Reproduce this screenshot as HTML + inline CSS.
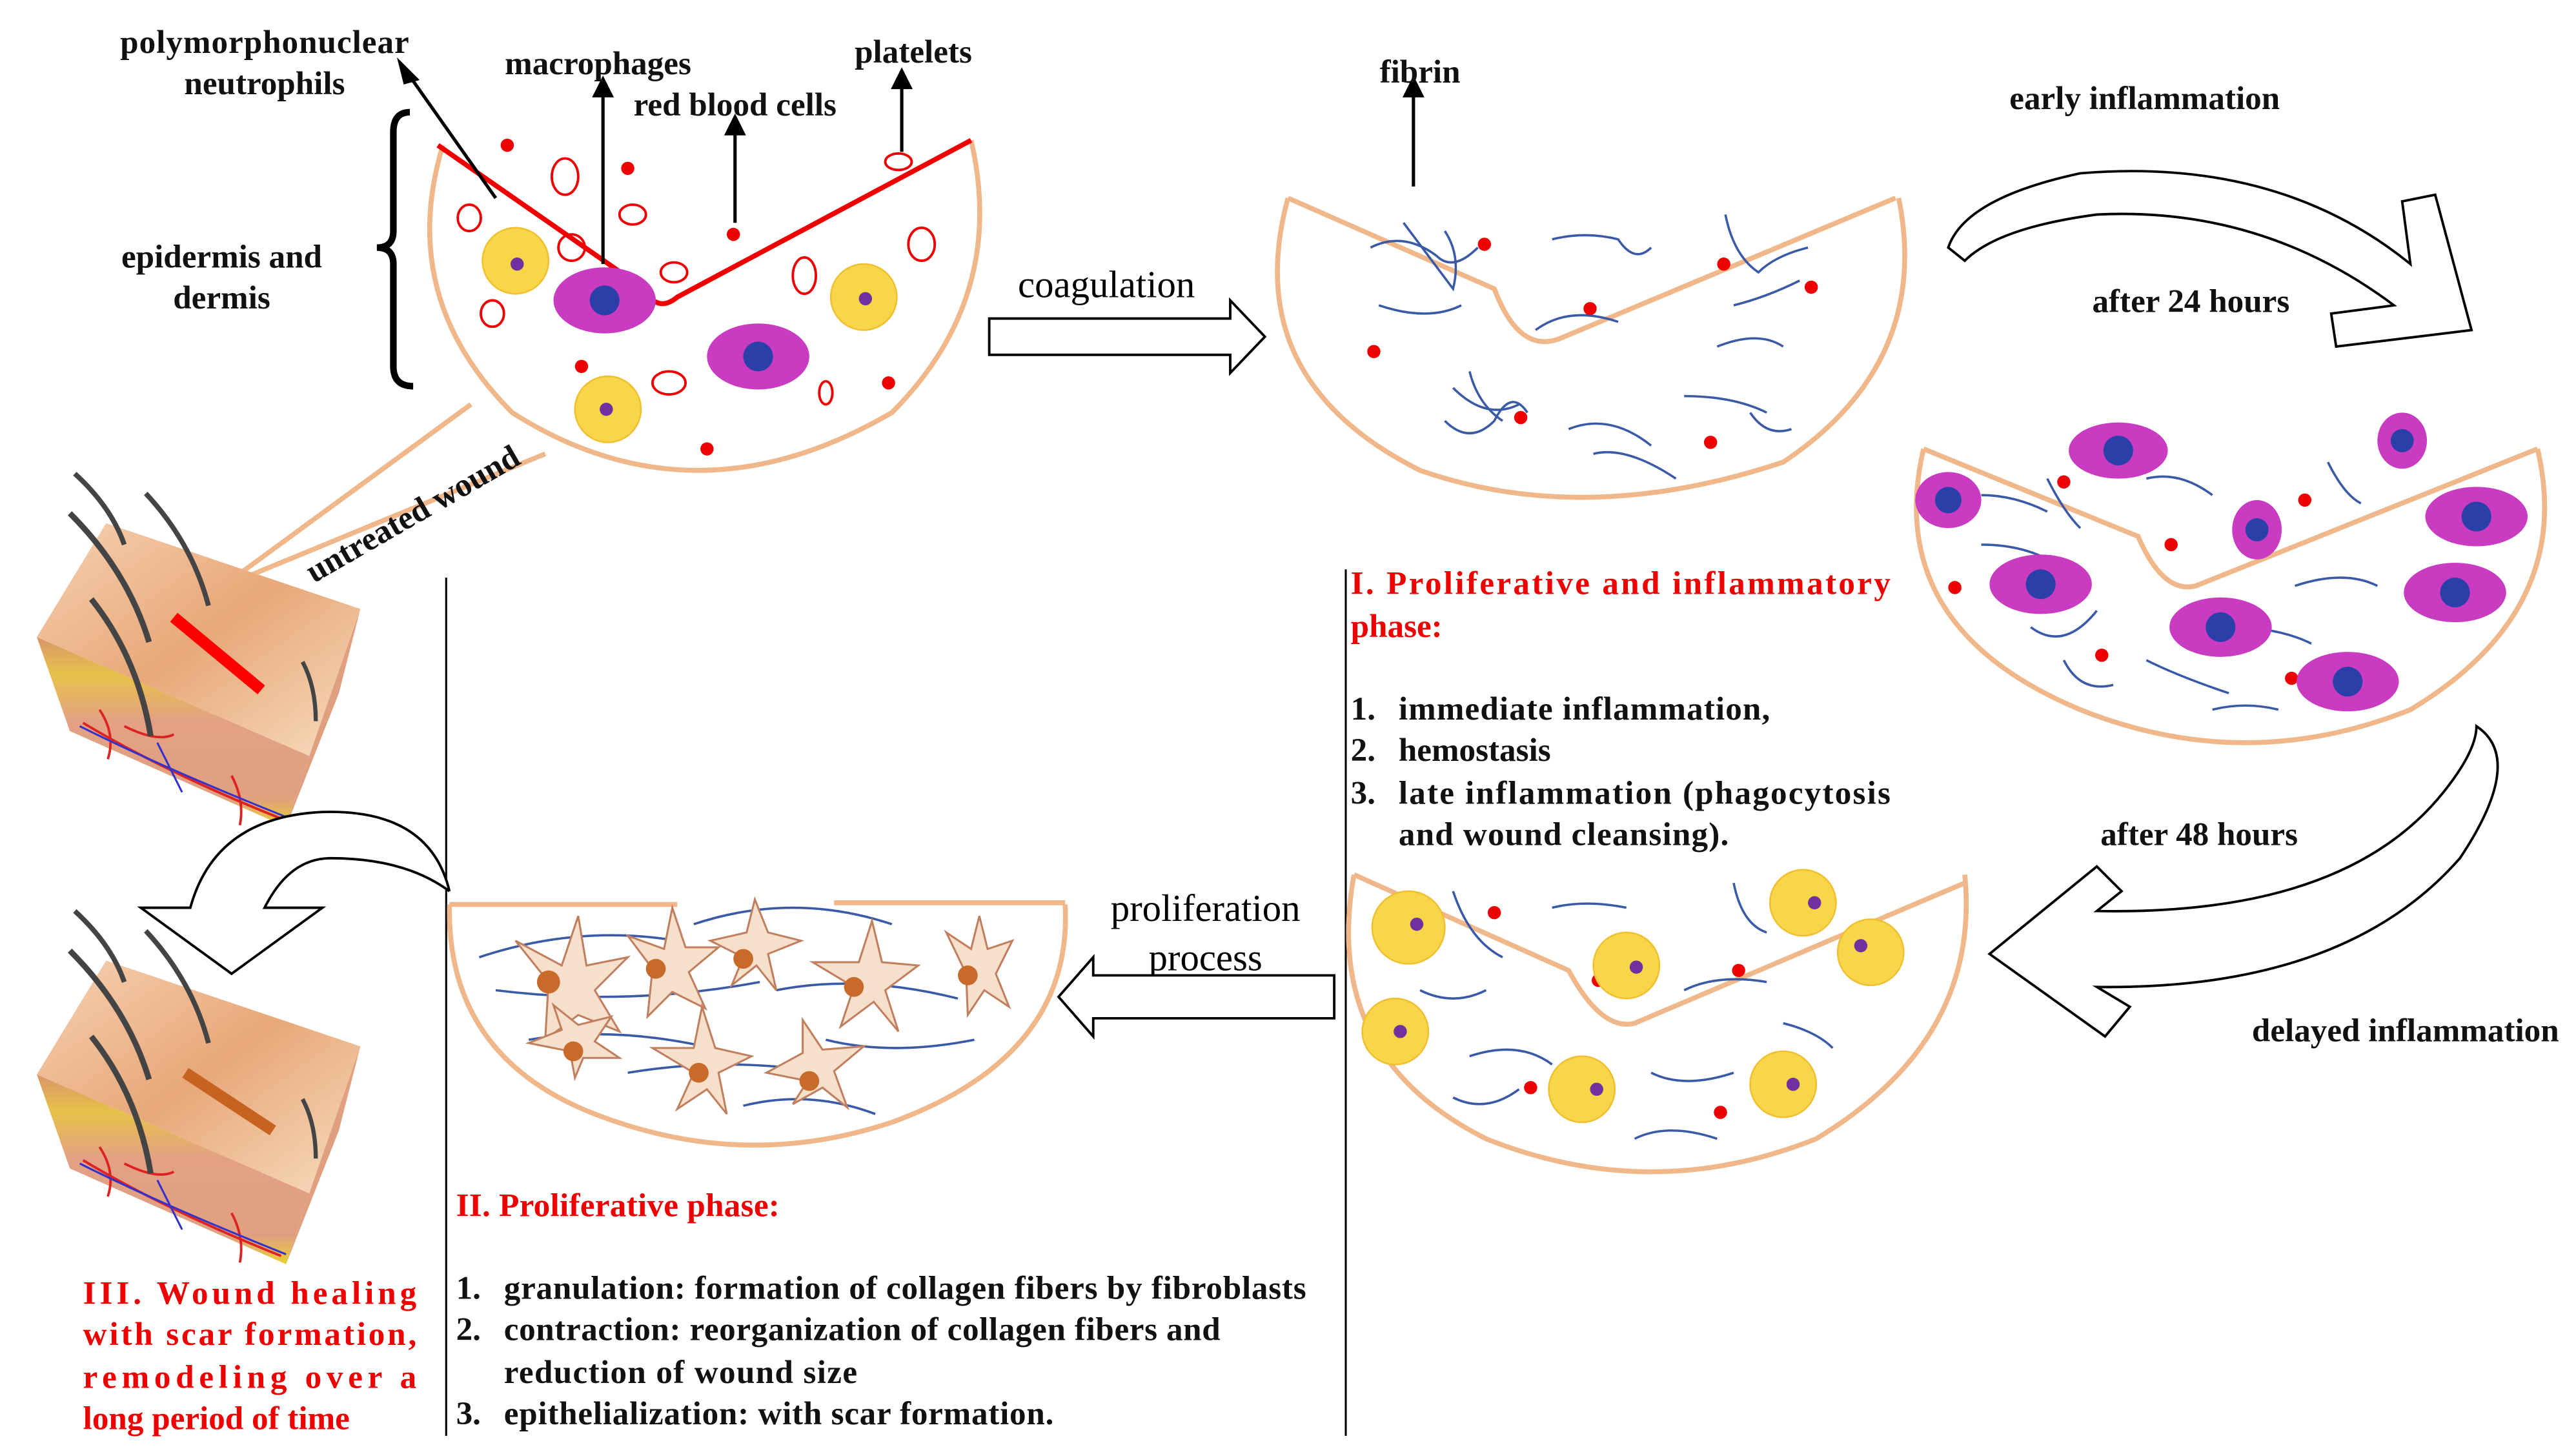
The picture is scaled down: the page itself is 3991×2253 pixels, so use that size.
<!DOCTYPE html>
<html><head><meta charset="utf-8"><style>
html,body{margin:0;padding:0;background:#fff;width:3991px;height:2253px;overflow:hidden}
svg{display:block}
text{font-family:"Liberation Serif",serif;font-weight:bold;}
text.n{font-weight:normal;}
</style></head><body>
<svg width="3991" height="2253" viewBox="0 0 1560 881" xmlns="http://www.w3.org/2000/svg">
<defs>
<linearGradient id="top" x1="0" y1="0" x2="1" y2="1">
<stop offset="0" stop-color="#f6d2b4"/><stop offset="0.5" stop-color="#e8a878"/><stop offset="1" stop-color="#f7dcc0"/></linearGradient>
<linearGradient id="front" x1="0" y1="0" x2="0" y2="1">
<stop offset="0" stop-color="#d9956a"/><stop offset="0.2" stop-color="#e6c24a"/><stop offset="0.45" stop-color="#e3a085"/><stop offset="0.85" stop-color="#e0a080"/><stop offset="1" stop-color="#e8d030"/></linearGradient>
<g id="cube">
<polygon points="22,386 187,458 173,501 42,443" fill="url(#front)"/>
<polygon points="187,458 218,369 205,420 173,501" fill="#e0a080"/>
<polygon points="22,386 64,317 218,369 187,458" fill="url(#top)"/>
<path d="M60,430 q10,15 5,30 M140,470 q8,15 5,30 M75,440 q20,10 30,5 M50,438 q50,30 120,58" stroke="#d22" stroke-width="1.5" fill="none"/>
<path d="M48,440 q50,25 125,55 M95,450 q10,20 15,30" stroke="#33c" stroke-width="1.2" fill="none"/>
<path d="M45,287 q22,20 30,43" stroke="#444" stroke-width="3" fill="none"/>
<path d="M42,311 q35,35 48,78" stroke="#444" stroke-width="3.5" fill="none"/>
<path d="M88,299 q28,30 38,68" stroke="#444" stroke-width="3" fill="none"/>
<path d="M55,363 q28,35 36,83" stroke="#444" stroke-width="3.5" fill="none"/>
<path d="M183,401 q8,15 8,36" stroke="#444" stroke-width="2.5" fill="none"/>
</g>
</defs>

<path d="M285,245 L128,360 M330,275 L143,352" stroke="#f0b88a" stroke-width="3"/>
<use href="#cube"/>
<line x1="105" y1="374" x2="158" y2="418" stroke="#f00" stroke-width="7"/>
<g transform="translate(0,265)"><use href="#cube"/>
<line x1="112" y1="385" x2="165" y2="420" stroke="#c8621f" stroke-width="7"/></g>

<path d="M268,88 Q240,180 310,250 Q420,320 540,250 Q610,180 588,85" fill="#fff" stroke="#f0b88a" stroke-width="3"/>
<path d="M265,88 L390,175 Q398,190 410,180 L588,85" fill="none" stroke="#e00" stroke-width="3"/>
<g fill="none" stroke="#e00" stroke-width="1.5">
<ellipse cx="342" cy="107" rx="8" ry="11"/><ellipse cx="284" cy="132" rx="7" ry="8"/><ellipse cx="346" cy="150" rx="8" ry="8"/><ellipse cx="383" cy="130" rx="8" ry="6"/><ellipse cx="298" cy="190" rx="7" ry="8"/><ellipse cx="408" cy="165" rx="8" ry="6"/><ellipse cx="487" cy="167" rx="7" ry="11"/><ellipse cx="558" cy="148" rx="8" ry="10"/><ellipse cx="405" cy="232" rx="10" ry="7"/><ellipse cx="500" cy="238" rx="4" ry="7"/><ellipse cx="544" cy="98" rx="8" ry="5"/></g>
<g fill="#e00"><circle cx="307" cy="88" r="4"/><circle cx="380" cy="102" r="4"/><circle cx="444" cy="142" r="4"/><circle cx="352" cy="222" r="4"/><circle cx="538" cy="232" r="4"/><circle cx="428" cy="272" r="4"/></g>
<g fill="#f8d64a" stroke="#f0c030"><circle cx="312" cy="158" r="20"/><circle cx="523" cy="180" r="20"/><circle cx="368" cy="248" r="20"/></g>
<g fill="#7030a0"><circle cx="313" cy="160" r="4"/><circle cx="524" cy="181" r="4"/><circle cx="367" cy="248" r="4"/></g>
<g fill="#c93bc1"><ellipse cx="366" cy="182" rx="31" ry="20"/><ellipse cx="459" cy="216" rx="31" ry="20"/></g>
<g fill="#2a3fa8"><circle cx="366" cy="182" r="9"/><circle cx="459" cy="216" r="9"/></g>
<g stroke="#000" stroke-width="2" fill="#000">
<line x1="300" y1="120" x2="245" y2="42"/><polygon points="242,38 252,48 245,50" />
<line x1="365" y1="160" x2="365" y2="55"/><polygon points="365,48 360,58 370,58"/>
<line x1="445" y1="135" x2="445" y2="78"/><polygon points="445,71 440,81 450,81"/>
<line x1="546" y1="92" x2="546" y2="50"/><polygon points="546,43 541,53 551,53"/>
<line x1="856" y1="113" x2="856" y2="55"/><polygon points="856,48 851,58 861,58"/>
</g>
<path d="M248,68 Q238,68 238,80 L238,140 Q238,150 228,150 Q238,150 238,160 L238,222 Q238,234 250,234" fill="none" stroke="#000" stroke-width="4"/>
<g font-size="20" fill="#111">
<text x="160" y="32" text-anchor="middle" textLength="175">polymorphonuclear</text>
<text x="160" y="57" text-anchor="middle">neutrophils</text>
<text x="362" y="45" text-anchor="middle">macrophages</text>
<text x="445" y="70" text-anchor="middle">red blood cells</text>
<text x="553" y="38" text-anchor="middle">platelets</text>
<text x="134" y="162" text-anchor="middle">epidermis and</text>
<text x="134" y="187" text-anchor="middle">dermis</text>
<text x="860" y="50" text-anchor="middle">fibrin</text>
<text x="1299" y="66" text-anchor="middle">early inflammation</text>
<text x="1327" y="189" text-anchor="middle">after 24 hours</text>
<text x="1332" y="512" text-anchor="middle">after 48 hours</text>
<text x="1457" y="631" text-anchor="middle">delayed inflammation</text>
<text x="253" y="317" text-anchor="middle" transform="rotate(-30 253 317)">untreated wound</text>
</g>
<text class="n" x="670" y="180" font-size="23" text-anchor="middle">coagulation</text>
<text class="n" x="730" y="558" font-size="23" text-anchor="middle">proliferation</text>
<text class="n" x="730" y="588" font-size="23" text-anchor="middle">process</text>
<polygon points="599,193 745,193 745,182 766,204 745,226 745,215 599,215" fill="#fff" stroke="#000" stroke-width="1.5"/>
<polygon points="808,591 662,591 662,580 641,604 662,628 662,617 808,617" fill="#fff" stroke="#000" stroke-width="1.5"/>
<path d="M1180,150 Q1190,120 1260,105 Q1380,95 1460,160 L1455,122 L1475,118 L1497,200 L1415,210 L1412,190 L1450,185 Q1370,125 1270,130 Q1210,138 1190,158 Z" fill="#fff" stroke="#000" stroke-width="1.5"/>
<path d="M1500,440 Q1530,460 1490,520 Q1420,600 1270,598 L1290,610 L1275,628 L1205,578 L1270,525 L1285,540 L1270,552 Q1420,555 1480,480 Q1500,455 1500,440 Z" fill="#fff" stroke="#000" stroke-width="1.5"/>
<line x1="270" y1="350" x2="270" y2="870" stroke="#000" stroke-width="1.2"/>
<line x1="815" y1="345" x2="815" y2="870" stroke="#000" stroke-width="1.2"/>
<path d="M272,540 Q260,490 195,492 Q130,495 115,550 L85,550 L140,590 L195,550 L160,550 Q175,520 200,520 Q245,520 272,540" fill="#fff" stroke="#000" stroke-width="1.5"/>

<path d="M780,120 Q750,230 860,285 Q960,320 1080,280 Q1170,220 1150,120" fill="none" stroke="#f0b88a" stroke-width="3"/>
<path d="M780,120 L905,175 Q920,215 945,205 L1148,120" fill="none" stroke="#f0b88a" stroke-width="3"/>
<g fill="none" stroke="#3a5aa8" stroke-width="1.4">
<path d="M830,150 q20,-10 40,5 q10,10 25,-5"/><path d="M850,135 q15,20 30,40 q5,-20 -5,-35"/><path d="M940,145 q20,-5 40,0 q10,15 20,5"/><path d="M1045,130 q5,25 20,35 q10,-10 30,-15"/><path d="M835,185 q30,10 50,0"/><path d="M930,200 q20,-15 50,-5"/><path d="M1040,210 q25,-10 40,0"/><path d="M1050,185 q20,-5 40,-15"/><path d="M880,235 q20,20 40,10"/><path d="M875,255 q15,15 30,0 q10,-20 20,-5"/><path d="M950,260 q25,-10 50,10"/><path d="M965,275 q20,-5 50,15"/><path d="M1020,240 q30,0 50,10"/><path d="M1060,250 q10,15 25,10"/><path d="M890,225 q5,20 20,30"/></g>
<g fill="#e00"><circle cx="899" cy="148" r="4"/><circle cx="1044" cy="160" r="4"/><circle cx="1097" cy="174" r="4"/><circle cx="963" cy="187" r="4"/><circle cx="832" cy="213" r="4"/><circle cx="921" cy="253" r="4"/><circle cx="1036" cy="268" r="4"/></g>

<path d="M1165,272 Q1140,380 1260,430 Q1360,470 1460,430 Q1560,370 1537,272" fill="none" stroke="#f0b88a" stroke-width="3"/>
<path d="M1165,272 L1295,325 Q1310,360 1330,355 L1537,272" fill="none" stroke="#f0b88a" stroke-width="3"/>
<g fill="none" stroke="#3a5aa8" stroke-width="1.4">
<path d="M1200,300 q20,0 40,10"/><path d="M1240,290 q10,20 20,30"/><path d="M1300,290 q20,-5 40,10"/><path d="M1410,280 q10,20 20,25"/><path d="M1230,380 q20,15 40,-10"/><path d="M1250,400 q10,20 30,15"/><path d="M1350,380 q30,0 50,10"/><path d="M1390,355 q30,-10 50,0"/><path d="M1300,400 q20,10 50,20"/><path d="M1340,430 q20,-5 40,0"/><path d="M1200,330 q30,0 50,15"/></g>
<g fill="#e00"><circle cx="1250" cy="292" r="4"/><circle cx="1315" cy="330" r="4"/><circle cx="1396" cy="303" r="4"/><circle cx="1184" cy="356" r="4"/><circle cx="1273" cy="397" r="4"/><circle cx="1388" cy="411" r="4"/></g>
<g fill="#c93bc1"><ellipse cx="1283" cy="273" rx="30" ry="17"/><ellipse cx="1455" cy="267" rx="15" ry="17"/><ellipse cx="1180" cy="303" rx="20" ry="17"/><ellipse cx="1367" cy="321" rx="15" ry="18"/><ellipse cx="1500" cy="313" rx="31" ry="18"/><ellipse cx="1236" cy="354" rx="31" ry="18"/><ellipse cx="1487" cy="359" rx="31" ry="18"/><ellipse cx="1345" cy="380" rx="31" ry="18"/><ellipse cx="1422" cy="413" rx="31" ry="18"/></g>
<g fill="#2a3fa8"><circle cx="1283" cy="273" r="9"/><circle cx="1455" cy="267" r="7"/><circle cx="1180" cy="303" r="8"/><circle cx="1367" cy="321" r="7"/><circle cx="1500" cy="313" r="9"/><circle cx="1236" cy="354" r="9"/><circle cx="1487" cy="359" r="9"/><circle cx="1345" cy="380" r="9"/><circle cx="1422" cy="413" r="9"/></g>

<path d="M820,530 Q800,640 900,690 Q1000,730 1100,690 Q1200,630 1190,530" fill="none" stroke="#f0b88a" stroke-width="3"/>
<path d="M820,530 L950,588 Q970,625 990,620 L1190,535" fill="none" stroke="#f0b88a" stroke-width="3"/>
<g fill="none" stroke="#3a5aa8" stroke-width="1.4">
<path d="M880,540 q10,30 30,40"/><path d="M940,550 q20,-5 45,0"/><path d="M1050,535 q5,25 20,30"/><path d="M860,600 q20,10 40,0"/><path d="M1020,600 q20,-10 50,-5"/><path d="M890,640 q30,-10 50,5"/><path d="M1000,650 q20,10 50,0"/><path d="M880,665 q20,10 40,-5"/><path d="M990,690 q20,-10 50,0"/><path d="M1080,620 q20,5 30,15"/></g>
<g fill="#e00"><circle cx="905" cy="553" r="4"/><circle cx="1053" cy="588" r="4"/><circle cx="968" cy="594" r="4"/><circle cx="838" cy="619" r="4"/><circle cx="927" cy="659" r="4"/><circle cx="1042" cy="674" r="4"/></g>
<g fill="#f8d64a" stroke="#f0c030"><circle cx="853" cy="562" r="22"/><circle cx="1092" cy="547" r="20"/><circle cx="1133" cy="577" r="20"/><circle cx="985" cy="585" r="20"/><circle cx="845" cy="625" r="20"/><circle cx="958" cy="660" r="20"/><circle cx="1080" cy="657" r="20"/></g>
<g fill="#7030a0"><circle cx="858" cy="560" r="4"/><circle cx="1099" cy="547" r="4"/><circle cx="1127" cy="573" r="4"/><circle cx="991" cy="586" r="4"/><circle cx="848" cy="625" r="4"/><circle cx="967" cy="660" r="4"/><circle cx="1086" cy="657" r="4"/></g>

<path d="M272,548 Q270,640 360,675 Q450,710 540,680 Q650,640 645,548" fill="none" stroke="#f0b88a" stroke-width="3"/>
<line x1="272" y1="548" x2="410" y2="548" stroke="#f0b88a" stroke-width="3"/>
<line x1="505" y1="547" x2="645" y2="547" stroke="#f0b88a" stroke-width="3"/>
<g fill="none" stroke="#3a5aa8" stroke-width="1.4">
<path d="M290,580 q60,-20 120,-10"/><path d="M300,600 q80,10 160,-5"/><path d="M320,630 q60,-10 130,10"/><path d="M420,560 q60,-20 120,0"/><path d="M470,600 q50,-10 110,5"/><path d="M380,650 q60,-10 120,0"/><path d="M500,630 q40,10 90,0"/><path d="M450,670 q40,-10 80,5"/></g>
<g fill="#f6e0cc" stroke="#c08060" stroke-width="1.2">
<path d="M332,595 l-20,-25 l28,15 l10,-30 l5,30 l25,-5 l-20,20 l15,25 l-25,-10 l-20,15 z"/>
<path d="M395,587 l-15,-20 l22,8 l5,-25 l8,24 l20,0 l-18,15 l10,22 l-20,-10 l-15,15 z"/>
<path d="M450,580 l-20,-10 l22,-5 l5,-20 l8,20 l20,5 l-20,8 l5,22 l-12,-15 l-15,12 z"/>
<path d="M517,598 l-25,-15 l28,0 l8,-25 l6,25 l22,2 l-20,15 l8,25 l-15,-18 l-20,15 z"/>
<path d="M585,590 l-12,-25 l15,10 l5,-20 l5,20 l15,-5 l-10,20 l8,20 l-15,-10 l-10,15 z"/>
<path d="M345,637 l-25,-5 l20,-8 l-5,-15 l15,12 l20,-5 l-10,15 l15,10 l-22,0 l-5,12 z"/>
<path d="M420,650 l-25,-15 l25,0 l5,-25 l8,25 l22,5 l-20,10 l5,25 l-12,-15 l-18,12 z"/>
<path d="M489,655 l-25,-5 l22,-12 l0,-20 l12,18 l25,-2 l-18,15 l8,22 l-15,-12 l-18,10 z"/></g>
<g fill="#c86a2a"><circle cx="332" cy="595" r="7"/><circle cx="397" cy="587" r="6"/><circle cx="450" cy="581" r="6"/><circle cx="517" cy="598" r="6"/><circle cx="586" cy="591" r="6"/><circle cx="347" cy="637" r="6"/><circle cx="423" cy="650" r="6"/><circle cx="490" cy="655" r="6"/></g>

<g font-size="20" fill="#e00">
<text x="818" y="360" textLength="327" lengthAdjust="spacing">I. Proliferative and inflammatory</text>
<text x="818" y="386">phase:</text>
<text x="276" y="737" textLength="196">II. Proliferative phase:</text>
<text x="50" y="790" textLength="202" lengthAdjust="spacing">III. Wound healing</text>
<text x="50" y="815" textLength="202" lengthAdjust="spacing">with scar formation,</text>
<text x="50" y="841" textLength="202" lengthAdjust="spacing">remodeling over a</text>
<text x="50" y="866">long period of time</text>
</g>
<g font-size="20" fill="#111">
<text x="818" y="436">1.</text><text x="847" y="436" textLength="225">immediate inflammation,</text>
<text x="818" y="461">2.</text><text x="847" y="461">hemostasis</text>
<text x="818" y="487">3.</text><text x="847" y="487" textLength="298" lengthAdjust="spacing">late inflammation (phagocytosis</text>
<text x="847" y="512" textLength="200">and wound cleansing).</text>
<text x="276" y="787">1.</text><text x="305" y="787" textLength="486">granulation: formation of collagen fibers by fibroblasts</text>
<text x="276" y="812">2.</text><text x="305" y="812" textLength="434">contraction: reorganization of collagen fibers and</text>
<text x="305" y="838" textLength="214">reduction of wound size</text>
<text x="276" y="863">3.</text><text x="305" y="863" textLength="333">epithelialization: with scar formation.</text>
</g>
</svg>
</body></html>
